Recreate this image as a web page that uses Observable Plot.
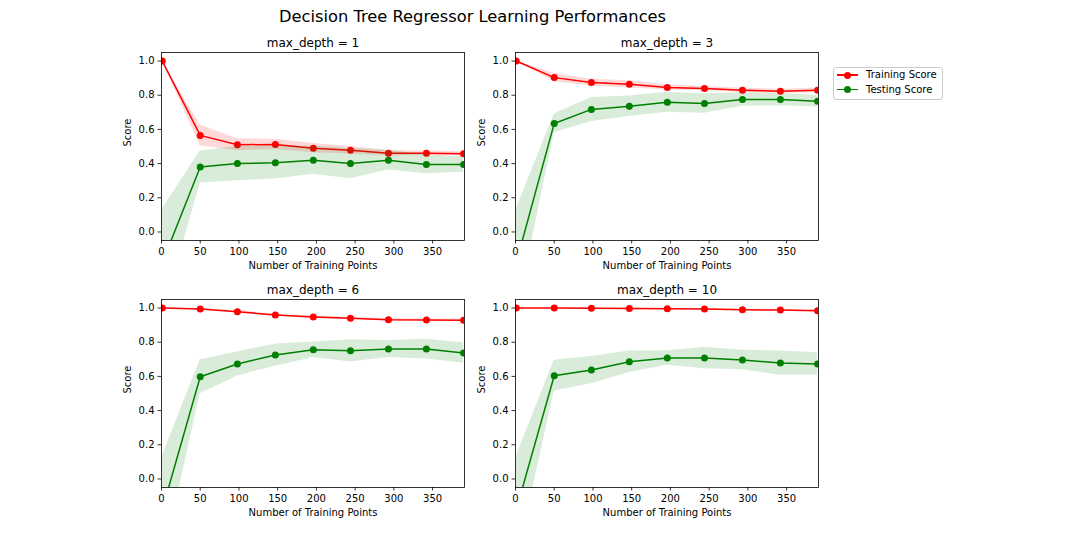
<!DOCTYPE html>
<html>
<head>
<meta charset="utf-8">
<script src="https://cdn.jsdelivr.net/npm/d3@7"></script>
<script src="https://cdn.jsdelivr.net/npm/@observablehq/plot@0.6"></script>
<style>
  body { margin: 0; background: #fff; }
  .chart { position: relative; width: 1076px; height: 536px; overflow: hidden; background: #fff; font-family: "DejaVu Sans", sans-serif; color: #000; }
  .panel { position: absolute; }
  .title { position: absolute; left: 0; width: 945px; top: 9px; text-align: center; font-size: 16.3px; line-height: 16px; white-space: nowrap; }
  .legend { position: absolute; left: 833px; top: 67px; width: 110px; height: 33px; box-sizing: border-box; border: 1px solid #cccccc; border-radius: 3px; background: rgba(255,255,255,0.8); font-size: 10px; }
  .lrow { position: absolute; left: 0; width: 108px; height: 14px; }
  .lline { position: absolute; left: 3px; top: 6.25px; width: 20.6px; height: 1.5px; }
  .ldot { position: absolute; left: 9.8px; top: 3.5px; width: 7px; height: 7px; border-radius: 50%; }
  .ltext { position: absolute; left: 32px; top: 0; line-height: 14px; white-space: nowrap; }
</style>
</head>
<body>
<div id="root" class="chart">
  <div class="title">Decision Tree Regressor Learning Performances</div>
  <div class="legend" id="legend"></div>
</div>
<script>
// ---------------- data ----------------
const sizes = [1, 50, 98, 147, 196, 244, 293, 342, 390];
const xMax = 391.2;
const xTicks = [0, 50, 100, 150, 200, 250, 300, 350];
const yTicks = [0, 0.2, 0.4, 0.6, 0.8, 1.0];
const depths = [1, 3, 6, 10];
const seriesNames = ["Training Score", "Testing Score"];

const trainMean1 = [1.0, 0.565, 0.51, 0.512, 0.49, 0.478, 0.46, 0.46, 0.458];
const trainStd1  = [0, 0.06, 0.035, 0.03, 0.027, 0.022, 0.016, 0.013, 0.012];
const testMean1  = [-0.18, 0.38, 0.40, 0.405, 0.42, 0.40, 0.42, 0.395, 0.395];
const testStd1   = [0.315, 0.093, 0.10, 0.095, 0.083, 0.088, 0.058, 0.055, 0.045];

const trainMean3 = [1.0, 0.903, 0.874, 0.864, 0.845, 0.839, 0.829, 0.823, 0.829];
const trainStd3  = [0, 0.024, 0.02, 0.02, 0.015, 0.013, 0.012, 0.012, 0.014];
const testMean3  = [-0.18, 0.635, 0.717, 0.736, 0.759, 0.751, 0.775, 0.775, 0.765];
const testStd3   = [0.315, 0.055, 0.07, 0.06, 0.058, 0.057, 0.04, 0.037, 0.034];

const trainMean6 = [1.0, 0.994, 0.979, 0.959, 0.947, 0.940, 0.932, 0.930, 0.928];
const trainStd6  = [0, 0.004, 0.006, 0.006, 0.007, 0.006, 0.006, 0.006, 0.007];
const testMean6  = [-0.18, 0.598, 0.673, 0.725, 0.756, 0.750, 0.760, 0.760, 0.737];
const testStd6   = [0.315, 0.10, 0.07, 0.065, 0.045, 0.065, 0.05, 0.058, 0.06];

const trainMean10 = [1.0, 1.0, 0.999, 0.998, 0.996, 0.995, 0.990, 0.988, 0.984];
const trainStd10  = [0, 0.001, 0.002, 0.002, 0.003, 0.003, 0.004, 0.004, 0.005];
const testMean10  = [-0.18, 0.604, 0.637, 0.686, 0.708, 0.708, 0.696, 0.678, 0.673];
const testStd10   = [0.315, 0.09, 0.08, 0.063, 0.042, 0.063, 0.057, 0.071, 0.066];

// ---------------- layout / style ----------------
const RED = "#ff0000", GREEN = "#008000";
const ML = 60, MR = 10, MT = 30, MB = 40, FW = 303, FH = 188;
const panelPos = [[101, 21.7], [455, 21.7], [101, 268.6], [455, 268.6]];
const panelData = [
  [trainMean1, trainStd1, testMean1, testStd1],
  [trainMean3, trainStd3, testMean3, testStd3],
  [trainMean6, trainStd6, testMean6, testStd6],
  [trainMean10, trainStd10, testMean10, testStd10]
];

function rows(mean, std) {
  return sizes.map((s, i) => ({size: s, mean: mean[i], lo: mean[i] - std[i], hi: mean[i] + std[i]}));
}

function panel(depth, trM, trS, teM, teS) {
  const train = rows(trM, trS);
  const test = rows(teM, teS);
  return Plot.plot({
    width: ML + FW + MR,
    height: MT + FH + MB,
    marginLeft: ML, marginRight: MR, marginTop: MT, marginBottom: MB,
    x: {domain: [0, xMax]},
    y: {domain: [-0.05, 1.05]},
    style: {fontFamily: "DejaVu Sans", fontSize: "10px", color: "#000", background: "transparent", overflow: "visible", maxWidth: "none"},
    marks: [
      Plot.line(train, {x: "size", y: "mean", stroke: RED, strokeWidth: 1.5, clip: true}),
      Plot.dot(train, {x: "size", y: "mean", fill: RED, r: 3.5, clip: true}),
      Plot.line(test, {x: "size", y: "mean", stroke: GREEN, strokeWidth: 1.5, clip: true}),
      Plot.dot(test, {x: "size", y: "mean", fill: GREEN, r: 3.5, clip: true}),
      Plot.areaY(train, {x: "size", y1: "lo", y2: "hi", fill: RED, fillOpacity: 0.15, clip: true}),
      Plot.areaY(test, {x: "size", y1: "lo", y2: "hi", fill: GREEN, fillOpacity: 0.15, clip: true}),
      Plot.frame({stroke: "#000", strokeWidth: 0.8}),
      Plot.axisX(xTicks, {tickSize: 3.5, tickPadding: 3.5, strokeWidth: 0.8, label: null}),
      Plot.axisY(yTicks, {tickSize: 3.5, tickPadding: 3.5, strokeWidth: 0.8, tickFormat: d3.format(".1f"), label: null}),
      Plot.text([`max_depth = ${depth}`], {text: d => d, frameAnchor: "top", lineAnchor: "bottom", dy: -5.3, fontSize: 12}),
      Plot.text(["Score"], {text: d => d, frameAnchor: "left", dx: -33.5, rotate: -90, fontSize: 10}),
      Plot.text(["Number of Training Points"], {text: d => d, frameAnchor: "bottom", lineAnchor: "bottom", dy: 28.5, fontSize: 10})
    ]
  });
}

const root = document.getElementById("root");
depths.forEach((d, i) => {
  const el = panel(d, ...panelData[i]);
  el.classList.add("panel");
  el.style.left = panelPos[i][0] + "px";
  el.style.top = panelPos[i][1] + "px";
  root.appendChild(el);
});

// legend
const legend = document.getElementById("legend");
[RED, GREEN].forEach((c, i) => {
  const row = document.createElement("div");
  row.className = "lrow";
  row.style.top = (i === 0 ? 0 : 14.6) + "px";
  row.innerHTML = `<div class="lline" style="background:${c}"></div><div class="ldot" style="background:${c}"></div><div class="ltext">${seriesNames[i]}</div>`;
  legend.appendChild(row);
});
</script>
</body>
</html>
